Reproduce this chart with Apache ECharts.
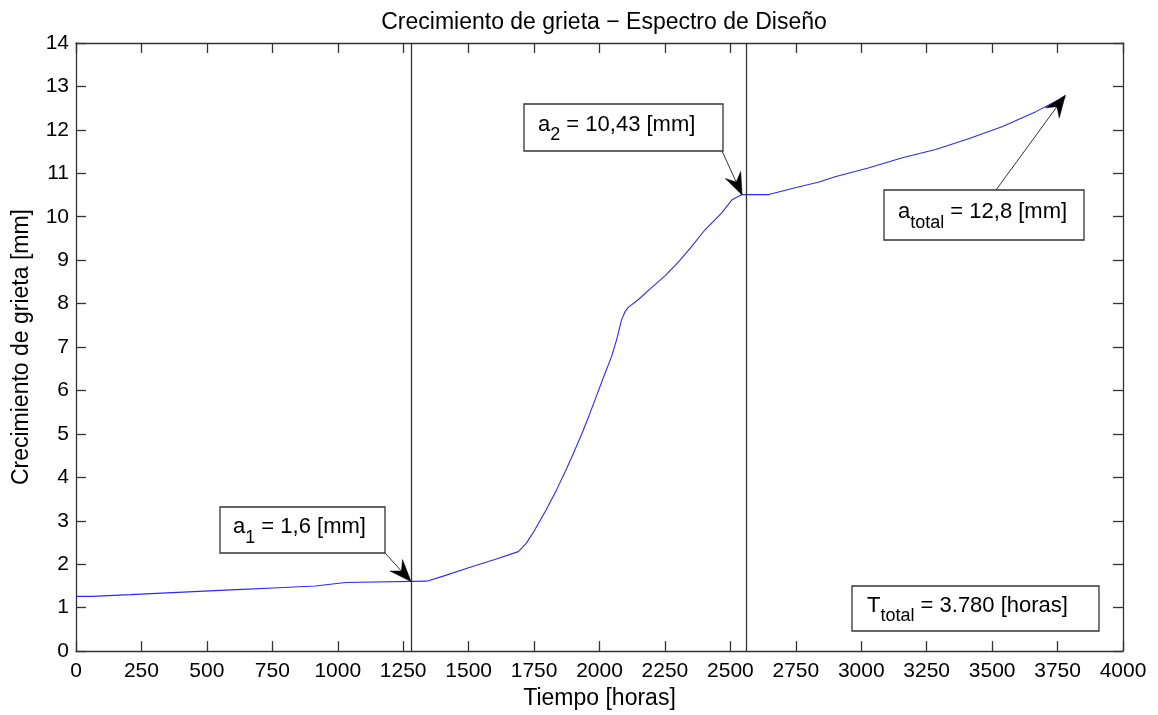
<!DOCTYPE html>
<html>
<head>
<meta charset="utf-8">
<script src="https://cdn.jsdelivr.net/npm/echarts@6/dist/echarts.min.js"></script>
<style>html,body{margin:0;padding:0;background:#fff;}#main{width:1158px;height:715px;}</style>
</head>
<body>
<div id="main"></div>
<script>
// ---- data ----
const timeHours = [0,62,66,208,212,348,352,490,495,635,640,774,778,915,920,972,977,1030,1035,1340,
  1400,1500,1600,1690,1720,1751,1797,1835,1874,1900,1931,1960,1990,2020,2046,2065,2084,2098,2111,2150,2188,2250,
  2302,2350,2403,2467,2506,2544,2647,2736,2839,2900,3030,3157,3284,3413,3540,3667,3744,3780];
const crackMm = [1.26,1.26,1.30,1.30,1.34,1.34,1.38,1.38,1.42,1.42,1.46,1.46,1.50,1.50,1.54,1.54,1.58,1.58,1.61,1.61,
  1.72,1.92,2.11,2.29,2.48,2.77,3.26,3.70,4.20,4.55,4.98,5.42,5.90,6.38,6.78,7.16,7.62,7.82,7.92,8.10,8.31,8.64,
  8.96,9.30,9.70,10.09,10.39,10.51,10.51,10.65,10.80,10.92,11.13,11.36,11.55,11.80,12.08,12.42,12.66,12.75];
const markerHours = [1280, 2560];
const annoBase = ['a', 'a', 'a', 'T'];
const annoSub = ['1', '2', 'total', 'total'];
const annoRest = [' = 1,6 [mm]', ' = 10,43 [mm]', ' = 12,8 [mm]', ' = 3.780 [horas]'];
const arrowHours = [1280, 2545, 3780];
const arrowCrack = [1.6, 10.5, 12.8];
const titleText = 'Crecimiento de grieta \u2212 Espectro de Dise\u00f1o';
const xName = 'Tiempo [horas]';
const yName = 'Crecimiento de grieta [mm]';

const FONT = '"Liberation Sans", Arial, Helvetica, sans-serif';
const AXC = '#333';
const chart = echarts.init(document.getElementById('main'), null, {renderer: 'canvas'});

const seriesData = timeHours.map((t, i) => [t, crackMm[i]]);
function axisCommon() {
  return {
    axisLine: {show: true, onZero: false, lineStyle: {color: AXC, width: 1.3}},
    axisTick: {show: true, inside: true, length: 10, lineStyle: {color: AXC, width: 1.3}},
    splitLine: {show: false}
  };
}
const plain = v => String(v);

chart.setOption({
  animation: false,
  backgroundColor: '#fff',
  title: {
    text: titleText, left: 599, top: 6, textAlign: 'center',
    textStyle: {fontSize: 23, fontWeight: 'normal', color: '#000', fontFamily: FONT}
  },
  grid: {left: 76, right: 35, top: 43, bottom: 63, containLabel: false},
  xAxis: [
    Object.assign({
      type: 'value', min: 0, max: 4000, interval: 250, position: 'bottom',
      name: xName, nameLocation: 'middle', nameGap: 31,
      nameTextStyle: {fontSize: 23, color: '#000', fontFamily: FONT},
      axisLabel: {fontSize: 21, color: '#000', fontFamily: FONT, margin: 10, formatter: plain}
    }, axisCommon()),
    Object.assign({
      type: 'value', min: 0, max: 4000, interval: 250, position: 'top',
      axisLabel: {show: false}
    }, axisCommon())
  ],
  yAxis: [
    Object.assign({
      type: 'value', min: 0, max: 14, interval: 1, position: 'left',
      name: yName, nameLocation: 'middle', nameGap: 43, nameRotate: 90,
      nameTextStyle: {fontSize: 23, color: '#000', fontFamily: FONT},
      axisLabel: {fontSize: 21, color: '#000', fontFamily: FONT, margin: 7, formatter: plain}
    }, axisCommon()),
    Object.assign({
      type: 'value', min: 0, max: 14, interval: 1, position: 'right',
      axisLabel: {show: false}
    }, axisCommon())
  ],
  series: [{
    type: 'line', data: seriesData, xAxisIndex: 0, yAxisIndex: 0,
    showSymbol: false, symbol: 'none',
    lineStyle: {color: '#2a2aff', width: 1.1},
    markLine: {
      silent: true, symbol: ['none', 'none'], label: {show: false},
      lineStyle: {color: AXC, width: 1.3, type: 'solid'},
      data: markerHours.map(h => ({xAxis: h}))
    }
  }]
});

// ---- annotations (boxes in layout pixels, arrow tips from data) ----
const cvs = document.createElement('canvas').getContext('2d');
function tw(txt, fs) { cvs.font = fs + 'px "Liberation Sans", Arial'; return cvs.measureText(txt).width; }

const boxes = [
  {x: 220, y: 507, w: 165, h: 46, pad: 13, from: [385, 553]},
  {x: 524, y: 104, w: 199, h: 47, pad: 14, from: [722, 151]},
  {x: 884, y: 190, w: 200, h: 50, pad: 14, from: [996, 190]},
  {x: 852, y: 586, w: 247, h: 45, pad: 15, from: null}
];
const MAIN = 22, SUB = 18;
const g = [];
boxes.forEach((b, i) => {
  g.push({type: 'rect', shape: {x: b.x, y: b.y, width: b.w, height: b.h},
    style: {fill: '#fff', stroke: AXC, lineWidth: 1.3}, z: 100});
  const base = b.y + b.h / 2 + 5;
  const midMain = base - 0.35 * MAIN;
  const midSub = base + 9 - 0.35 * SUB;
  let x = b.x + b.pad;
  const mk = (txt, fs, y) => ({type: 'text', x: x, y: y, z: 101,
    style: {text: txt, fontSize: fs, fontFamily: FONT, fill: '#000', align: 'left', verticalAlign: 'middle'}});
  g.push(mk(annoBase[i], MAIN, midMain)); x += tw(annoBase[i], MAIN);
  g.push(mk(annoSub[i], SUB, midSub)); x += tw(annoSub[i], SUB);
  g.push(mk(annoRest[i], MAIN, midMain));
  if (b.from) {
    const tip = chart.convertToPixel({xAxisIndex: 0, yAxisIndex: 0}, [arrowHours[i], arrowCrack[i]]);
    const sx = b.from[0], sy = b.from[1], tx = tip[0], ty = tip[1];
    const dx = tx - sx, dy = ty - sy, len = Math.hypot(dx, dy);
    const ux = dx / len, uy = dy / len, nx = -uy, ny = ux;
    const L = 22, W = 8.5;
    const bx = tx - ux * L, by = ty - uy * L;
    const mx = tx - ux * L * 0.65, my = ty - uy * L * 0.65;
    g.push({type: 'line', z: 102, shape: {x1: sx, y1: sy, x2: mx, y2: my}, style: {stroke: '#333', lineWidth: 1}});
    g.push({type: 'polygon', z: 102, shape: {points: [[tx, ty], [bx + nx * W, by + ny * W], [mx, my], [bx - nx * W, by - ny * W]]},
      style: {fill: '#000', stroke: '#000', lineWidth: 0.5}});
  }
});
chart.setOption({graphic: {elements: g}});
</script>
</body>
</html>
